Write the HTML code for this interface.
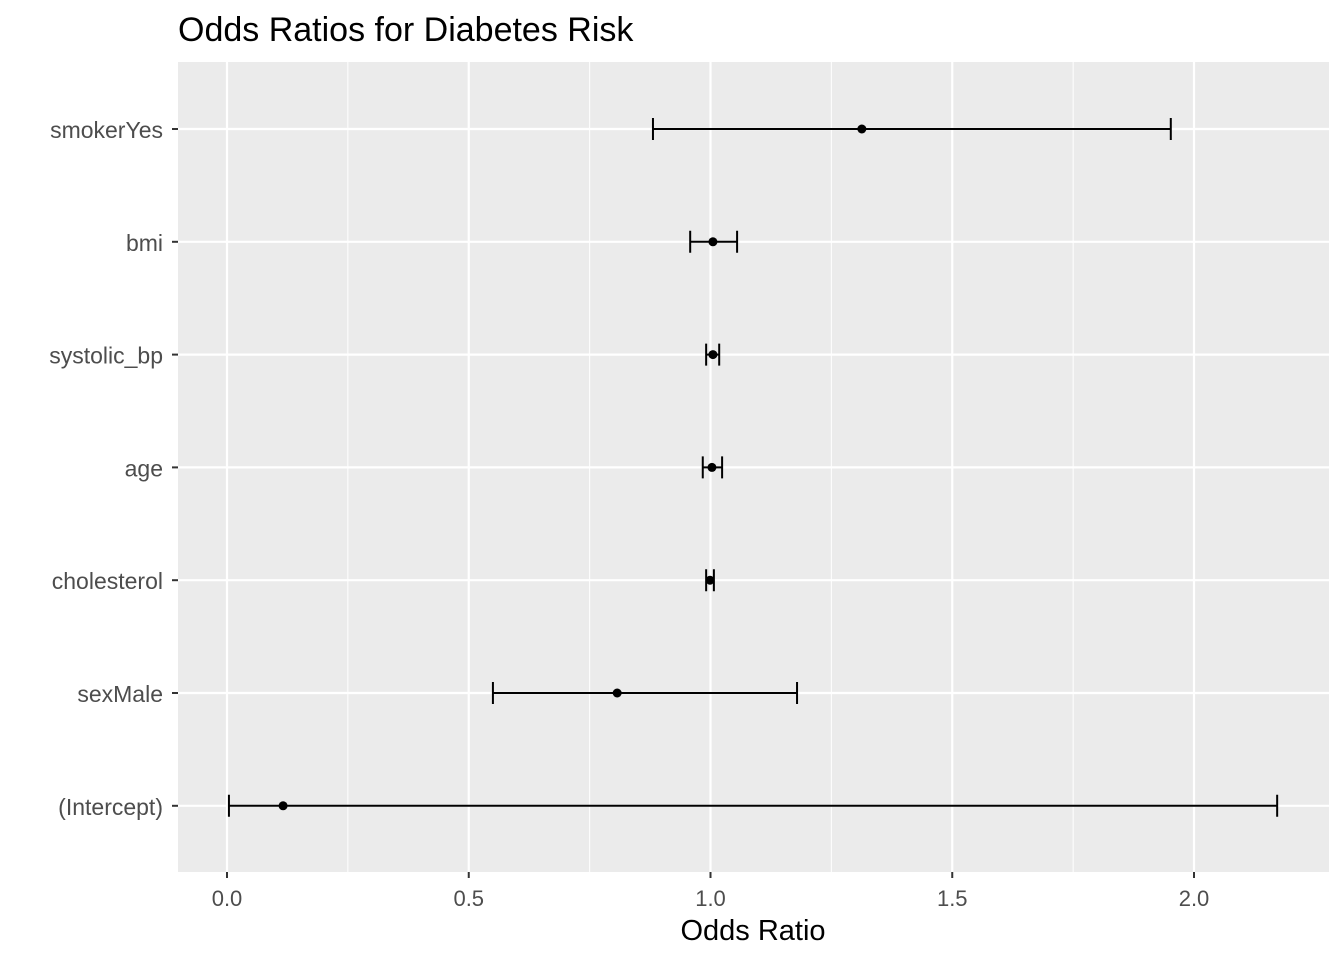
<!DOCTYPE html>
<html><head><meta charset="utf-8"><style>
body{margin:0;background:#fff;}
svg{display:block;font-family:"Liberation Sans",sans-serif;}
</style></head><body>
<svg id="chart" width="1344" height="960">
<text x="178" y="41" font-size="34" fill="#000">Odds Ratios for Diabetes Risk</text>
<rect x="178" y="62" width="1151" height="810" fill="#ebebeb"/>
<g id="grid"></g><g id="marks"></g><g id="axes"></g>
<text x="753" y="940" font-size="29" text-anchor="middle" fill="#000">Odds Ratio</text>
</svg>
<script>
const categories=["smokerYes","bmi","systolic_bp","age","cholesterol","sexMale","(Intercept)"];
const estimates=[1.313,1.005,1.005,1.003,0.999,0.807,0.116];
const lower=[0.881,0.958,0.991,0.984,0.991,0.550,0.004];
const upper=[1.952,1.055,1.018,1.024,1.007,1.179,2.172];
const xTicks=[0,0.5,1,1.5,2];
const xTickLabels=["0.0","0.5","1.0","1.5","2.0"];
const NS="http://www.w3.org/2000/svg";
const x=v=>227+v*483.5;
const y=i=>129+i*112.8;
function mk(tag,attrs,parent){const e=document.createElementNS(NS,tag);for(const k in attrs)e.setAttribute(k,attrs[k]);document.getElementById(parent).appendChild(e);return e;}
xTicks.forEach((t,i)=>{
  if(i<xTicks.length-1){const m=mk("line",{x1:x(t+0.25),x2:x(t+0.25),y1:62,y2:872,stroke:"#fff","stroke-width":1},"grid");
  
  }
  const g=mk("line",{x1:x(t),x2:x(t),y1:62,y2:872,stroke:"#fff","stroke-width":2.2},"grid");
  
  
  const tk=mk("line",{x1:x(t),x2:x(t),y1:872,y2:878,stroke:"#333","stroke-width":2},"axes");
  
  
  const tl=mk("text",{x:x(t),y:906,"font-size":22,"text-anchor":"middle",fill:"#4d4d4d"},"axes");
  tl.textContent=xTickLabels[i];
  
  
});
categories.forEach((c,i)=>{
  const g=mk("line",{x1:178,x2:1329,y1:y(i),y2:y(i),stroke:"#fff","stroke-width":2.2},"grid");
  
  
  const tk=mk("line",{x1:172,x2:178,y1:y(i),y2:y(i),stroke:"#333","stroke-width":2},"axes");
  
  
  const tl=mk("text",{x:163,y:y(i)+9,"font-size":23,"text-anchor":"end",fill:"#4d4d4d"},"axes");
  tl.textContent=c;
  
  
  const eb=mk("path",{d:`M${x(lower[i])},${y(i)-11}V${y(i)+11}M${x(lower[i])},${y(i)}H${x(upper[i])}M${x(upper[i])},${y(i)-11}V${y(i)+11}`,stroke:"#000","stroke-width":2,fill:"none"},"marks");
  
  
  const p=mk("circle",{cx:x(estimates[i]),cy:y(i),r:4.5,fill:"#000"},"marks");
  
  
});
</script>
</body></html>
